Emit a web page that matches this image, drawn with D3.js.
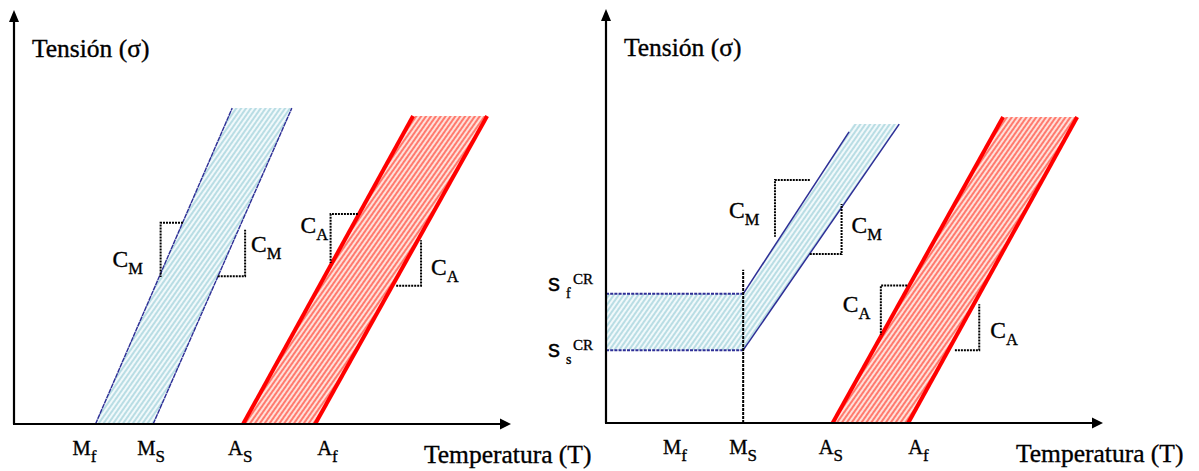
<!DOCTYPE html>
<html>
<head>
<meta charset="utf-8">
<script src="https://cdn.jsdelivr.net/npm/d3@7"></script>
<style>
  body { margin: 0; background: #fff; }
  svg { display: block; }
  text { stroke: #000; stroke-width: 0.35px; }
</style>
</head>
<body>
<svg id="chart" width="1199" height="471"></svg>
<script>
// ---- Data (temperature T and stress σ in arbitrary units, 0–100 along each axis) ----

// Transformation temperatures shown under each temperature axis
const leftTemps = [
  { name: "M", sub: "f", T: 16.4 },
  { name: "M", sub: "S", T: 28.0 },
  { name: "A", sub: "S", T: 46.1 },
  { name: "A", sub: "f", T: 60.6 }
];
const rightTemps = [
  { name: "M", sub: "f", T: 14.3 },
  { name: "M", sub: "S", T: 27.6 },
  { name: "A", sub: "S", T: 45.6 },
  { name: "A", sub: "f", T: 60.8 }
];

// Left panel: martensite band (Mf → Ms) and austenite band (As → Af), [T, σ]
const leftMartStart  = [[16.4, 0], [43.9, 76.3]];
const leftMartFinish = [[28.0, 0], [55.9, 76.3]];
const leftAustStart  = [[46.1, 0], [80.3, 74.4]];
const leftAustFinish = [[60.6, 0], [95.2, 74.4]];

// Right panel: critical stresses and the martensite band above Ms
const sigmaCrS = 17.6;
const sigmaCrF = 31.2;
const rightMartLower = [[0, sigmaCrS], [27.6, sigmaCrS], [59.0, 72.2]];
const rightMartUpper = [[0, sigmaCrF], [27.6, sigmaCrF], [48.9, 70.3]];
const rightMartFill  = [[0, sigmaCrS], [27.6, sigmaCrS], [59.0, 72.2], [49.8, 72.2], [27.6, sigmaCrF], [0, sigmaCrF]];
const rightMsMarker  = [[27.6, 0], [27.6, 37.0]];
const rightAustStart  = [[45.6, 0], [79.9, 73.9]];
const rightAustFinish = [[60.8, 0], [94.8, 73.9]];

// Slope brackets (C_M, C_A): T extent, σ extent, which corner carries the right angle
const leftSlopes = [
  { T: [29.5, 34.0], s: [35.5, 48.6], corner: "tl", sub: "M" },
  { T: [41.0, 46.5], s: [35.7, 46.9], corner: "br", sub: "M" },
  { T: [63.7, 69.2], s: [38.9, 50.7], corner: "tl", sub: "A" },
  { T: [76.9, 81.9], s: [33.4, 44.4], corner: "br", sub: "A" }
];
const rightSlopes = [
  { T: [34.0, 41.0], s: [45.0, 58.7], corner: "tl", sub: "M" },
  { T: [41.0, 47.4], s: [40.8, 52.9], corner: "br", sub: "M" },
  { T: [55.3, 60.6], s: [21.3, 33.2], corner: "tl", sub: "A" },
  { T: [70.2, 75.1], s: [17.6, 28.7], corner: "br", sub: "A" }
];

// Critical stress labels on the right panel's stress axis
const criticalLabels = [
  { sub: "f", sigma: sigmaCrF },
  { sub: "s", sigma: sigmaCrS }
];

// ---- Layout ----
const svg = d3.select("#chart");
const serif = "'Liberation Serif', 'Times New Roman', serif";
const sans = "'Liberation Sans', Arial, sans-serif";

const x = d3.scaleLinear().domain([0, 100]).range([0, 497]);
const y = d3.scaleLinear().domain([0, 100]).range([0, -414]);
const line = d3.line().x(d => x(d[0])).y(d => y(d[1]));

const blueLine = "#2e2e96";
const redLine = "#ff0000";

// Hatch fills
const defs = svg.append("defs");
function hatch(id, bg, fg) {
  const p = defs.append("pattern")
    .attr("id", id)
    .attr("patternUnits", "userSpaceOnUse")
    .attr("width", 4).attr("height", 4)
    .attr("patternTransform", "rotate(35)");
  p.append("rect").attr("width", 4).attr("height", 4).attr("fill", bg);
  p.append("line").attr("x1", 1).attr("y1", 0).attr("x2", 1).attr("y2", 4)
    .attr("stroke", fg).attr("stroke-width", 2);
}
hatch("hatchBlue", "#f1f9fb", "#b9dde4");
hatch("hatchRed", "#ffe0da", "#ff7a6e");

// Label offsets (px) for the C labels, relative to each bracket's corner
const leftCOffsets = [[-48, 44], [6, -24], [-30, 19], [10, -11]];
const rightCOffsets = [[-46, 38], [10, -21], [-38, 26], [11, -12]];
// Tick label offsets (px) relative to each temperature position
const leftTickDx = [-23, -16, -15, 2];
const rightTickDx = [-14, -14, -14, 0];

function drawAxes(g) {
  g.append("line").attr("x1", 0).attr("y1", 0).attr("x2", 0).attr("y2", y(100) + 10)
    .attr("stroke", "#000").attr("stroke-width", 2.2);
  g.append("line").attr("x1", -1).attr("y1", 0).attr("x2", x(100) - 10).attr("y2", 0)
    .attr("stroke", "#000").attr("stroke-width", 2.2);
  const ty = y(100), tx = x(100);
  g.append("path").attr("d", `M0,${ty} L-5,${ty + 12} L5,${ty + 12} Z`).attr("fill", "#000");
  g.append("path").attr("d", `M${tx},0 L${tx - 11},-5.5 L${tx - 11},5.5 Z`).attr("fill", "#000");

  g.append("text").attr("x", 18).attr("y", y(100) + 47)
    .attr("font-family", serif).attr("font-size", 25.5).attr("fill", "#000")
    .text("Tensión (σ)");
  g.append("text").attr("x", 410).attr("y", 38.5)
    .attr("font-family", serif).attr("font-size", 25.5).attr("fill", "#000")
    .text("Temperatura (T)");
}

function drawTicks(g, temps, dxs) {
  temps.forEach((d, i) => {
    const t = g.append("text")
      .attr("x", x(d.T) + dxs[i]).attr("y", 31)
      .attr("font-family", serif).attr("font-size", 20.5).attr("fill", "#000");
    t.append("tspan").text(d.name);
    t.append("tspan").attr("font-size", 17).attr("dy", 7).text(d.sub);
  });
}

function drawBand(g, fillPts, lines, pattern, color, width, dash) {
  g.append("path").attr("d", line(fillPts) + "Z").attr("fill", `url(#${pattern})`);
  lines.forEach(pts => {
    g.append("path").attr("d", line(pts))
      .attr("fill", "none").attr("stroke", color).attr("stroke-width", width)
      .attr("stroke-linecap", "butt")
      .attr("stroke-dasharray", dash || null);
  });
}

function drawSlopes(g, slopes, offsets) {
  slopes.forEach((d, i) => {
    const [t1, t2] = d.T, [s1, s2] = d.s;
    const pts = d.corner === "tl"
      ? [[t2, s2], [t1, s2], [t1, s1]]
      : [[t1, s1], [t2, s1], [t2, s2]];
    g.append("path").attr("d", line(pts))
      .attr("fill", "none").attr("stroke", "#000").attr("stroke-width", 2)
      .attr("stroke-dasharray", "2,1");
    const c = d.corner === "tl" ? [x(t1), y(s2)] : [x(t2), y(s1)];
    const t = g.append("text")
      .attr("x", c[0] + offsets[i][0]).attr("y", c[1] + offsets[i][1])
      .attr("font-family", serif).attr("font-size", 23.5).attr("fill", "#000");
    t.append("tspan").text("C");
    t.append("tspan").attr("font-size", 16.5).attr("dy", 7).text(d.sub);
  });
}

// ---- Left panel ----
const left = svg.append("g").attr("transform", "translate(14,424)");
drawBand(left, leftMartStart.concat(leftMartFinish.slice().reverse()),
  [leftMartStart, leftMartFinish], "hatchBlue", blueLine, 1.4, "5,0.6");
drawBand(left, leftAustStart.concat(leftAustFinish.slice().reverse()),
  [leftAustStart, leftAustFinish], "hatchRed", redLine, 4);
drawSlopes(left, leftSlopes, leftCOffsets);
drawAxes(left);
drawTicks(left, leftTemps, leftTickDx);

// ---- Right panel ----
const right = svg.append("g").attr("transform", "translate(606,423)");
right.append("path").attr("d", line(rightMartFill) + "Z").attr("fill", "url(#hatchBlue)");
[rightMartLower, rightMartUpper].forEach(pts => {
  // dashed horizontal plateau, then the solid slanted segment
  right.append("path").attr("d", line(pts.slice(0, 2)))
    .attr("fill", "none").attr("stroke", blueLine).attr("stroke-width", 2)
    .attr("stroke-dasharray", "3,1.2");
  right.append("path").attr("d", line(pts.slice(1)))
    .attr("fill", "none").attr("stroke", blueLine).attr("stroke-width", 1.5);
});
right.append("path").attr("d", line(rightMsMarker))
  .attr("fill", "none").attr("stroke", "#000").attr("stroke-width", 2)
  .attr("stroke-dasharray", "3,1");
drawBand(right, rightAustStart.concat(rightAustFinish.slice().reverse()),
  [rightAustStart, rightAustFinish], "hatchRed", redLine, 4);
drawSlopes(right, rightSlopes, rightCOffsets);
drawAxes(right);
drawTicks(right, rightTemps, rightTickDx);

// Critical stress labels (σ rendered in the symbol-less fallback as "s")
const critDy = [-3, 7];
criticalLabels.forEach((d, i) => {
  const bx = -58, by = y(d.sigma) + critDy[i];
  right.append("text").attr("x", bx).attr("y", by)
    .attr("font-family", sans).attr("font-size", 24).attr("fill", "#000").text("s");
  right.append("text").attr("x", bx + 18).attr("y", by + 7)
    .attr("font-family", serif).attr("font-size", 14).attr("fill", "#000").text(d.sub);
  right.append("text").attr("x", bx + 25).attr("y", by - 7)
    .attr("font-family", serif).attr("font-size", 15).attr("fill", "#000").text("CR");
});
</script>
</body>
</html>
